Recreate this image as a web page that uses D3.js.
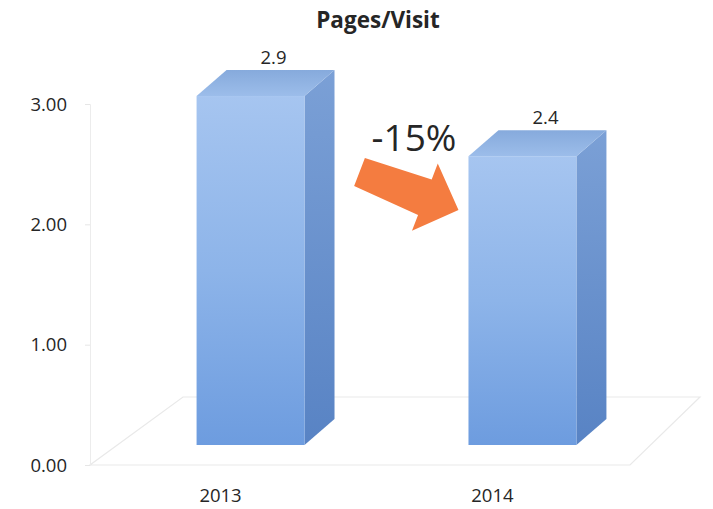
<!DOCTYPE html>
<html>
<head>
<meta charset="utf-8">
<script src="https://cdn.jsdelivr.net/npm/d3@7/dist/d3.min.js"></script>
<style>
  html, body { margin: 0; padding: 0; background: #fff; }
  svg text { font-family: "Open Sans", "DejaVu Sans", sans-serif; fill: #262626; }
</style>
</head>
<body>
<svg id="chart" width="713" height="509"></svg>
<script>
// Chart data
const years = ["2013", "2014"];
const pagesPerVisit = [2.9, 2.4];
const yTicks = [0, 1, 2, 3];
const chartTitle = "Pages/Visit";
const changeLabel = "-15%";

const svg = d3.select("#chart");

// Value axis and category axis
const y = d3.scaleLinear().domain([0, 3]).range([465, 104]);
const x = d3.scaleBand().domain(years).range([115, 658]).paddingInner(0.603).paddingOuter(0.3);
const bw = x.bandwidth();

// 3D projection offsets for bar depth and floor
const depth = { dx: 30, dy: -26 };
const barLift = 20;            // bars stand back from the front edge of the floor
const base = y(0) - barLift;

const defs = svg.append("defs");
const grad = (id, stops, x2 = 0, y2 = 1) => {
  const g = defs.append("linearGradient").attr("id", id)
    .attr("x1", 0).attr("y1", 0).attr("x2", x2).attr("y2", y2);
  stops.forEach(([o, c]) => g.append("stop").attr("offset", o).attr("stop-color", c));
};
grad("front", [[0, "#a6c5f0"], [0.5, "#8db4e9"], [1, "#6d9cdf"]]);
grad("side", [[0, "#7ba0d6"], [1, "#5883c4"]]);
grad("top", [[0, "#86aadc"], [1, "#9cbdea"]]);

// Floor of the 3D plot area
const floorBack = y(0) - 68;
const floorPts = [
  [90, y(0)], [630, y(0)], [700, floorBack], [183, floorBack]
];
svg.append("polygon")
  .attr("points", floorPts.map(p => p.join(",")).join(" "))
  .attr("fill", "none").attr("stroke", "#e9e9e9").attr("stroke-width", 1.2);

// Value axis
const yAxis = d3.axisLeft(y).tickValues(yTicks).tickFormat(d3.format(".2f"))
  .tickSize(5).tickPadding(18);
const gy = svg.append("g").attr("transform", "translate(90,0)").call(yAxis);
gy.select(".domain").attr("stroke", "#ececec");
gy.selectAll(".tick line").attr("stroke", "#e6e6e6");
gy.selectAll(".tick text").style("font-size", "18.5px").attr("fill", "#262626")
  .attr("dy", "0.34em");

// Bars (front, side and top faces)
const data = years.map((yr, i) => ({ yr, v: pagesPerVisit[i] }));
const bars = svg.append("g").selectAll("g").data(data).join("g");
const topOf = d => base - (y(0) - y(d.v));

bars.append("polygon")
  .attr("points", d => {
    const x0 = x(d.yr) + bw, t = topOf(d);
    return [[x0, t], [x0 + depth.dx, t + depth.dy], [x0 + depth.dx, base + depth.dy], [x0, base]]
      .map(p => p.join(",")).join(" ");
  })
  .attr("fill", "url(#side)");

bars.append("polygon")
  .attr("points", d => {
    const x0 = x(d.yr), t = topOf(d);
    return [[x0, t], [x0 + depth.dx, t + depth.dy], [x0 + bw + depth.dx, t + depth.dy], [x0 + bw, t]]
      .map(p => p.join(",")).join(" ");
  })
  .attr("fill", "url(#top)");

bars.append("rect")
  .attr("x", d => x(d.yr))
  .attr("y", topOf)
  .attr("width", bw)
  .attr("height", d => y(0) - y(d.v))
  .attr("fill", "url(#front)");

// Value labels above each bar
bars.append("text")
  .attr("x", d => x(d.yr) + bw / 2 + 23)
  .attr("y", d => topOf(d) + depth.dy - 6)
  .attr("text-anchor", "middle")
  .style("font-size", "18.5px")
  .text(d => d.v.toFixed(1));

// Category labels
svg.append("g").selectAll("text").data(years).join("text")
  .attr("x", d => x(d) + bw / 2 - 30)
  .attr("y", 502)
  .attr("text-anchor", "middle")
  .style("font-size", "18.5px")
  .text(d => d);

// Title
svg.append("text")
  .attr("x", 378).attr("y", 28)
  .attr("text-anchor", "middle")
  .style("font-size", "22.5px").style("font-weight", "bold")
  .text(chartTitle);

// Change arrow between the two bars
const tailX = x(years[0]) + bw + depth.dx + 25;
const tipX = x(years[1]) - 10;
const tailY = (y(pagesPerVisit[0]) + y(pagesPerVisit[1])) / 2 + 26;
const ang = 21 * Math.PI / 180;
const len = (tipX - tailX) / Math.cos(ang);
const headLen = 36;
const arrowShape = [
  [0, -15], [len - headLen, -19], [len - headLen, -36], [len, 0],
  [len - headLen, 36], [len - headLen, 19], [0, 15]
];
svg.append("polygon")
  .attr("points", arrowShape.map(p => p.join(",")).join(" "))
  .attr("transform", `translate(${tailX},${tailY}) rotate(21)`)
  .attr("fill", "#f47c40");

svg.append("text")
  .attr("x", (tailX + tipX) / 2 + 5).attr("y", 151)
  .attr("text-anchor", "middle")
  .style("font-size", "37px")
  .text(changeLabel);
</script>
</body>
</html>
